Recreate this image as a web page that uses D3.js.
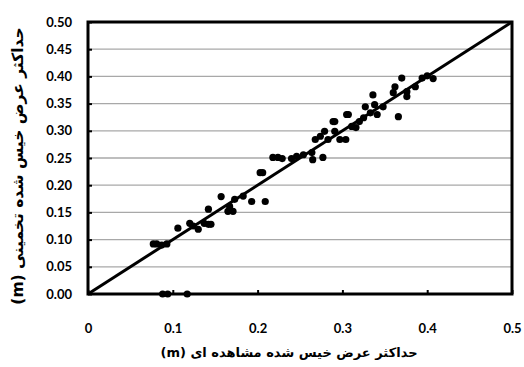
<!DOCTYPE html>
<html><head><meta charset="utf-8">
<script src="https://cdn.jsdelivr.net/npm/d3@7"></script>
<style>body{margin:0;background:#fff}svg{display:block}</style>
</head><body>
<script>
const observed = [0.077,0.081,0.087,0.093,0.106,0.120,0.124,0.130,0.137,0.142,0.142,0.145,0.157,0.165,0.167,0.171,0.173,0.183,0.193,0.209,0.203,0.206,0.218,0.224,0.229,0.240,0.246,0.254,0.264,0.265,0.277,0.268,0.274,0.279,0.283,0.289,0.291,0.291,0.297,0.304,0.305,0.307,0.311,0.316,0.320,0.325,0.327,0.333,0.336,0.338,0.341,0.348,0.360,0.362,0.366,0.370,0.376,0.376,0.386,0.394,0.400,0.407,0.088,0.094,0.117];
const estimated = [0.092,0.092,0.090,0.092,0.121,0.130,0.125,0.119,0.130,0.156,0.128,0.128,0.179,0.152,0.161,0.152,0.174,0.180,0.170,0.170,0.223,0.223,0.251,0.251,0.249,0.249,0.253,0.256,0.260,0.247,0.251,0.284,0.290,0.299,0.284,0.317,0.317,0.299,0.284,0.284,0.330,0.330,0.308,0.306,0.317,0.324,0.344,0.333,0.366,0.348,0.330,0.344,0.370,0.381,0.326,0.397,0.363,0.372,0.381,0.397,0.401,0.396,0,0,0];
const xTicks = [0,0.1,0.2,0.3,0.4,0.5];
const xTickLabels = ["0","0.1","0.2","0.3","0.4","0.5"];
const yTicks = [0,0.05,0.10,0.15,0.20,0.25,0.30,0.35,0.40,0.45,0.50];
const xTitle = "حداکثر عرض خیس شده مشاهده ای (m)";
const yTitle = "حداکثر عرض خیس شده تخمینی (m)";
const lineEnds = [0,0.5];

const W=524,H=367;
const L=88,R=512,T=22,B=294;
const svg=d3.select("body").append("svg").attr("width",W).attr("height",H);
const x=d3.scaleLinear().domain([0,0.5]).range([L,R]);
const y=d3.scaleLinear().domain([0,0.5]).range([B,T]);

// gridlines
svg.append("g").selectAll("line").data(yTicks.slice(1,-1)).join("line")
  .attr("x1",L).attr("x2",R).attr("y1",d=>y(d)).attr("y2",d=>y(d))
  .attr("stroke","#a8a8a8").attr("stroke-width",1.3);

// y axis
const ya=svg.append("g").attr("transform",`translate(${L},0)`)
  .call(d3.axisRight(y).tickValues(yTicks).tickSize(4).tickFormat(d3.format(".2f")));
ya.select(".domain").remove();
ya.selectAll(".tick line").attr("stroke","#000").attr("stroke-width",2);
ya.selectAll(".tick text").attr("x",-16).attr("text-anchor","end")
  .attr("font-family","Lato, 'Open Sans', sans-serif").attr("font-weight","bold").attr("font-size",13).attr("fill","#000");

// x axis
const xa=svg.append("g").attr("transform",`translate(0,${B})`)
  .call(d3.axisTop(x).tickValues(xTicks).tickSize(4).tickFormat((d,i)=>xTickLabels[i]));
xa.select(".domain").remove();
xa.selectAll(".tick line").attr("stroke","#000").attr("stroke-width",2);
xa.selectAll(".tick text").attr("y",34).attr("dy","0.35em")
  .attr("font-family","Lato, 'Open Sans', sans-serif").attr("font-weight","bold").attr("font-size",13).attr("fill","#000");

// 1:1 line
svg.append("line").attr("x1",x(lineEnds[0])).attr("y1",y(lineEnds[0])).attr("x2",x(lineEnds[1])).attr("y2",y(lineEnds[1]))
  .attr("stroke","#000").attr("stroke-width",3);

// points
svg.append("g").selectAll("circle").data(observed.map((v,i)=>[v,estimated[i]])).join("circle")
  .attr("cx",d=>x(d[0])).attr("cy",d=>y(d[1])).attr("r",3.6).attr("fill","#000");

// frame
svg.append("rect").attr("x",L).attr("y",T).attr("width",R-L).attr("height",B-T)
  .attr("fill","none").attr("stroke","#000").attr("stroke-width",3);

// titles
svg.append("text").attr("x",289).attr("y",352).attr("text-anchor","middle").attr("dy","0.35em")
  .attr("direction","rtl").attr("font-family","'DejaVu Sans', sans-serif").attr("font-weight","bold").attr("font-size",13)
  .text(xTitle);
svg.append("text").attr("transform",`translate(18,${(14+318)/2}) rotate(-90)`).attr("text-anchor","middle").attr("dy","0.35em")
  .attr("direction","rtl").attr("font-family","'DejaVu Sans', sans-serif").attr("font-weight","bold").attr("font-size",15.5)
  .text(yTitle);
</script>
</body></html>
